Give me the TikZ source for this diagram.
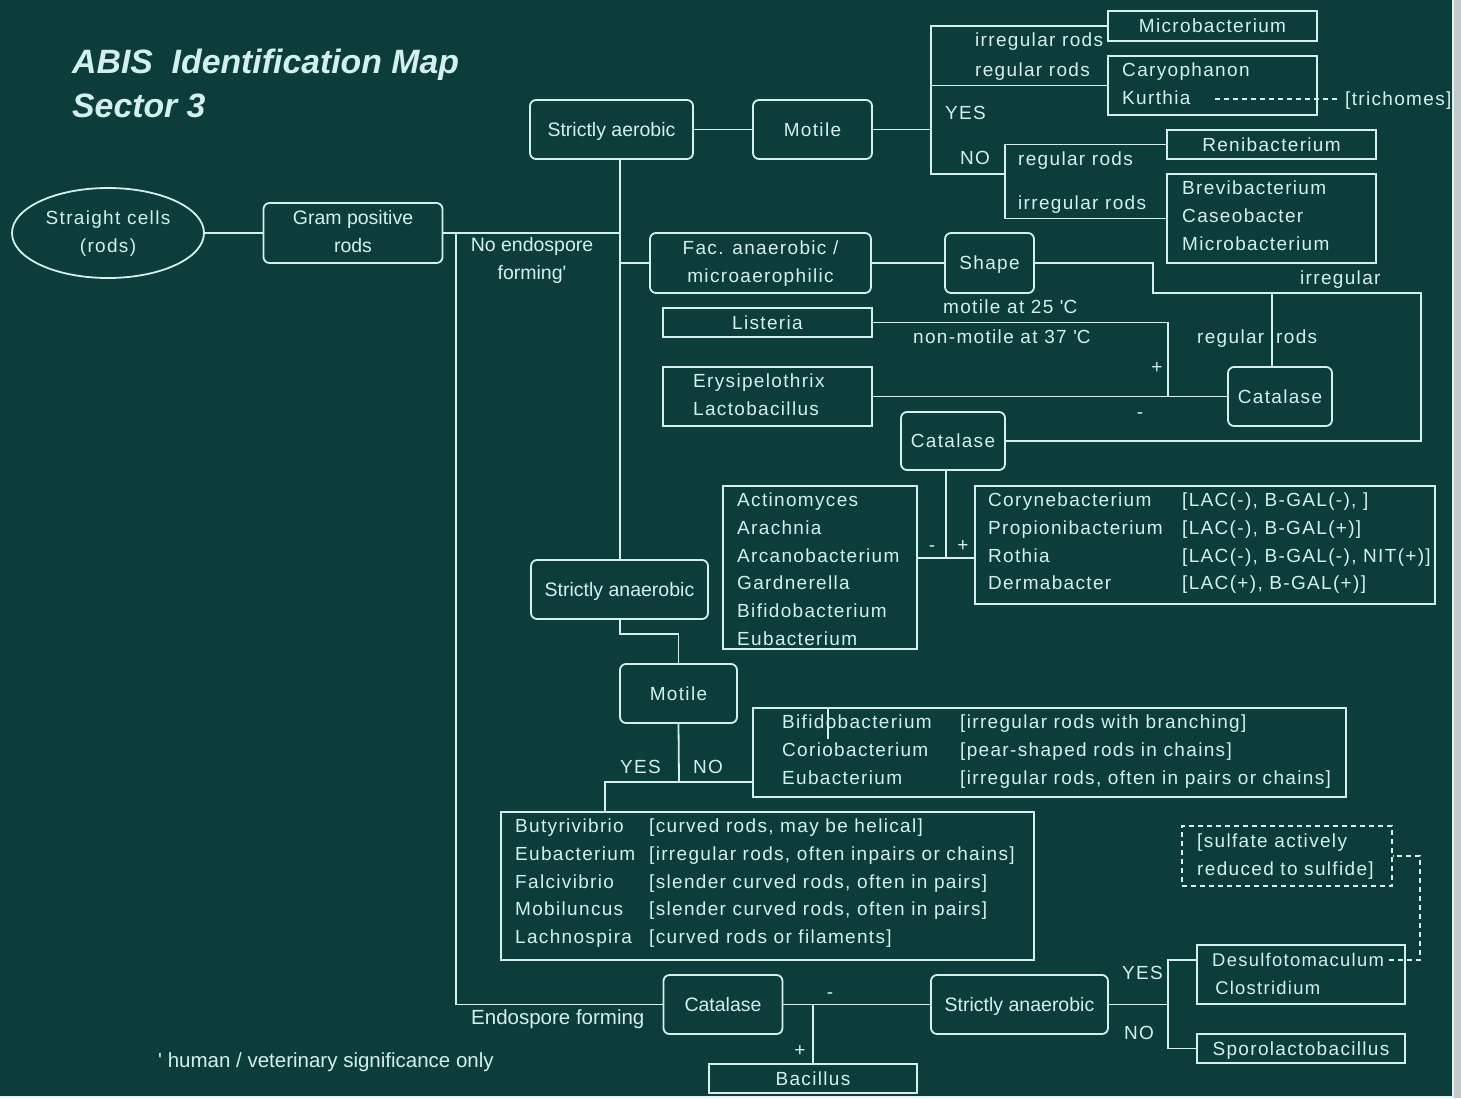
\documentclass[tikz,border=0pt]{standalone}
\usepackage{fontspec}
\usepackage{array}
\setmainfont{Liberation Sans}
\newfontfamily\spacedfam[LetterSpace=7]{Liberation Sans}
\usetikzlibrary{shapes.geometric}

\definecolor{bg}{HTML}{0C3D3B}
\definecolor{fg}{HTML}{D4F0EC}
\definecolor{edgegray}{HTML}{C4CACA}

\newcommand\plainfont{\fontsize{19.5}{27.7}\selectfont}
\newcommand\notefont{\fontsize{20.5}{27.7}\selectfont}
\newcommand\spacedfont{\spacedfam\fontsize{19}{27.7}\selectfont}
\newcommand\titlefont{\fontsize{33.8}{42}\selectfont\bfseries\itshape}
\newcommand\twoline[2]{\begin{tabular}{@{}c@{}}#1\\#2\end{tabular}}
\newcommand\stack[1]{\begin{tabular}{@{}l@{}}#1\end{tabular}}
\newcommand\pairlist[2]{\begin{tabular}{@{}p{#1pt}@{}l@{}}#2\end{tabular}}

\tikzset{
  ln/.style={draw=fg, line width=1.8pt},
  dsh/.style={draw=fg, line width=1.6pt, dash pattern=on 5pt off 4pt},
  frame/.style={draw=fg, line width=1.8pt, inner sep=0pt, text=fg, font=\spacedfont},
  rbox/.style={frame, rounded corners=6pt},
  sbox/.style={frame},
  one/.style={text height=13.6pt, text depth=0pt},
  lab/.style={text=fg, inner sep=0pt, text height=13.6pt, text depth=0pt, font=\spacedfont},
  txt/.style={text=fg, inner sep=0pt, anchor=west, font=\spacedfont},
}

\begin{document}
\begin{tikzpicture}[x=1pt,y=-1pt]
\fill[bg] (0,0) rectangle (1461,1098);
\useasboundingbox (0,0) rectangle (1461,1098);
% window frame at the right and bottom edges
\fill[edgegray] (1453,0) rectangle (1461,1098);
\draw[fg!80, line width=1.5pt] (1453,0) -- (1453,1098);
\draw[fg!70, line width=2pt] (0,1097) -- (1453,1097);

% title
\node[txt, font=\titlefont, anchor=base west] (title1) at (72,73) {ABIS\ \ Identification Map};
\node[txt, font=\titlefont, anchor=base west] (title2) at (72,117) {Sector 3};

% boxes
\node[frame, ellipse, minimum width=192pt, minimum height=90pt] (cells) at (108,233) {\twoline{Straight cells}{(rods)}};
\node[rbox, minimum width=179pt, minimum height=60pt, font=\plainfont] (gram) at (353,233) {\twoline{Gram positive}{rods}};
\node[rbox, one, minimum width=163pt, minimum height=59pt, font=\plainfont] (aer) at (611.5,129.5) {Strictly aerobic};
\node[rbox, one, minimum width=119pt, minimum height=59pt] (mot1) at (812.5,129.5) {Motile};
\node[sbox, one, minimum width=209pt, minimum height=30pt] (micro1) at (1212.5,26) {Microbacterium};
\node[sbox, minimum width=209pt, minimum height=59pt] (caryo) at (1212.5,85.5) {};
\node[txt] (caryoT) at (1122,85.1) {\stack{Caryophanon\\Kurthia}};
\node[sbox, one, minimum width=209pt, minimum height=29pt] (reni) at (1271.5,144.5) {Renibacterium};
\node[sbox, minimum width=209pt, minimum height=89pt] (brevi) at (1271.5,218.5) {};
\node[txt] (breviT) at (1182,217) {\stack{Brevibacterium\\Caseobacter\\Microbacterium}};
\node[rbox, minimum width=221pt, minimum height=60pt] (fac) at (760.5,263) {\twoline{Fac. anaerobic /}{microaerophilic}};
\node[rbox, one, minimum width=89pt, minimum height=60pt] (shape) at (989.5,263) {Shape};
\node[sbox, one, minimum width=209pt, minimum height=29pt] (list) at (767.5,322.5) {Listeria};
\node[sbox, minimum width=209pt, minimum height=59pt] (erysi) at (767.5,396.5) {};
\node[txt] (erysiT) at (693,396.1) {\stack{Erysipelothrix\\Lactobacillus}};
\node[rbox, one, minimum width=104pt, minimum height=59pt] (cat2) at (1280,396.5) {Catalase};
\node[rbox, one, minimum width=104pt, minimum height=58pt] (cat1) at (953,441) {Catalase};
\node[sbox, minimum width=194pt, minimum height=163pt] (actino) at (820,567.5) {};
\node[txt] (actinoT) at (737,570.5) {\stack{Actinomyces\\Arachnia\\Arcanobacterium\\Gardnerella\\Bifidobacterium\\Eubacterium}};
\node[sbox, minimum width=460pt, minimum height=118pt] (coryne) at (1205,545) {};
\node[txt] (coryneT) at (988,542.8) {\pairlist{194}{Corynebacterium & [LAC(-), B-GAL(-), ]\\ Propionibacterium & [LAC(-), B-GAL(+)]\\ Rothia & [LAC(-), B-GAL(-), NIT(+)]\\ Dermabacter & [LAC(+), B-GAL(+)]}};
\node[rbox, one, minimum width=177pt, minimum height=59pt, font=\plainfont] (ana1) at (619.5,589.5) {Strictly anaerobic};
\node[rbox, one, minimum width=117pt, minimum height=59pt] (mot2) at (678.5,693.5) {Motile};
\node[sbox, minimum width=593pt, minimum height=89pt] (bifido) at (1049.5,752.5) {};
\node[txt] (bifidoT) at (782,751) {\pairlist{178}{Bifidobacterium & [irregular rods with branching]\\ Coriobacterium & [pear-shaped rods in chains]\\ Eubacterium & [irregular rods, often in pairs or chains]}};
\node[sbox, minimum width=533pt, minimum height=148pt] (butyri) at (767.5,886) {};
\node[txt] (butyriT) at (515,882.7) {\pairlist{134}{Butyrivibrio & [curved rods, may be helical]\\ Eubacterium & [irregular rods, often inpairs or chains]\\ Falcivibrio & [slender curved rods, often in pairs]\\ Mobiluncus & [slender curved rods, often in pairs]\\ Lachnospira & [curved rods or filaments]}};
\node[sbox, dsh, minimum width=210pt, minimum height=60pt] (sulf) at (1287,856) {};
\node[txt] (sulfT) at (1197,856) {\stack{[sulfate actively\\reduced to sulfide]}};
\node[sbox, minimum width=208pt, minimum height=59pt] (desulfo) at (1301,974.5) {};
\node[txt, font=\spacedfam\fontsize{18.4}{27.7}\selectfont] (desulfoT) at (1212,975.1) {\stack{Desulfotomaculum\\\,Clostridium}};
\node[sbox, one, minimum width=208pt, minimum height=29pt] (sporo) at (1301,1048.5) {Sporolactobacillus};
\node[rbox, one, minimum width=119pt, minimum height=59pt, font=\plainfont] (cat3) at (723,1004.5) {Catalase};
\node[rbox, one, minimum width=177pt, minimum height=59pt, font=\plainfont] (ana2) at (1019.5,1004.5) {Strictly anaerobic};
\node[sbox, one, minimum width=208pt, minimum height=29pt] (bac) at (813,1078.5) {Bacillus};

% branch labels
\node[lab, anchor=west] (lirr1) at (975,40) {irregular rods};
\node[lab, anchor=west] (lreg1) at (975,70) {regular rods};
\node[lab, anchor=west] (lyes1) at (945,113) {YES};
\node[lab, anchor=west] (lno1) at (960,158) {NO};
\node[lab, anchor=west] (lreg2) at (1018,159) {regular rods};
\node[lab, anchor=west] (lirr2) at (1018,203) {irregular rods};
\node[lab, anchor=west] (tri) at (1345,99) {[trichomes]};
\node[txt, anchor=center, font=\plainfont] (noendo) at (532,260) {\twoline{No endospore}{forming\textquotesingle}};
\node[lab, anchor=west] (m25) at (943,307) {motile at 25 \textquotesingle C};
\node[lab, anchor=west] (m37) at (913,337) {non-motile at 37 \textquotesingle C};
\node[lab] (pl1) at (1157,367) {+};
\node[lab] (mi1) at (1140,412) {-};
\node[lab, anchor=west] (lirr3) at (1300,278) {irregular};
\node[lab, anchor=west] (lreg3) at (1197,337) {regular};
\node[lab, anchor=west] (lrods3) at (1276,337) {rods};
\node[lab] (mi2) at (932,545) {-};
\node[lab] (pl2) at (963,545) {+};
\node[lab, anchor=west] (lyes2) at (620,767) {YES};
\node[lab, anchor=west] (lno2) at (693,767) {NO};
\node[lab, anchor=west, font=\notefont] (endo) at (471,1018) {Endospore forming};
\node[lab] (mi3) at (830,992) {-};
\node[lab] (pl3) at (800,1050) {+};
\node[lab, anchor=west] (lyes3) at (1122,973) {YES};
\node[lab, anchor=west] (lno3) at (1124,1033) {NO};
\node[lab, anchor=west, font=\notefont] (foot) at (158,1061) {\textquotesingle\ human / veterinary significance only};

% junction points of the connector tree
\coordinate (trunk) at (620,0);
\coordinate (yn) at (931,0);
\coordinate (no1) at (931,174);
\coordinate (br) at (1005,0);
\coordinate (s1) at (1153,293);
\coordinate (s2) at (1421,293);
\coordinate (s3) at (1421,441);
\coordinate (rr) at (1272,293);
\coordinate (lp) at (1168,0);
\coordinate (cj) at (946,558);
\coordinate (a1) at (620,634);
\coordinate (m2) at (679,782);
\coordinate (yb) at (605,782);
\coordinate (stray) at (828,0);
\coordinate (e0) at (456,233);
\coordinate (bj) at (813,1004.5);
\coordinate (d1) at (1168,960);
\coordinate (d2) at (1168,1048.5);
\coordinate (k1) at (1215,99);
\coordinate (q1) at (1389,960);
\coordinate (q2) at (1420,960);
\coordinate (q3) at (1420,856);

% connectors
\draw[ln] (cells.east) -- (gram.west);
\draw[ln] (gram.east) -- (gram.east -| trunk);
\draw[ln] (aer.south -| trunk) -- (ana1.north -| trunk);
\draw[ln] (fac.west -| trunk) -- (fac.west);
\draw[ln] (aer.east) -- (mot1.west);
\draw[ln] (mot1.east) -- (mot1.east -| yn);
\draw[ln] (micro1.west) -- (micro1.west -| yn) -- (no1) -- (no1 -| br);
\draw[ln] (caryo.west -| yn) -- (caryo.west);
\draw[ln] (reni.west) -- (reni.west -| br) -- (brevi.west -| br) -- (brevi.west);
\draw[ln] (fac.east) -- (shape.west);
\draw[ln] (shape.east) -| (s1) -- (s2) -- (s3) -- (cat1.east);
\draw[ln] (rr) -- (rr |- cat2.north);
\draw[ln] (list.east) -- (list.east -| lp) -- (lp |- cat2.west);
\draw[ln] (cat2.west) -- (erysi.east);
\draw[ln] (cat1.south -| cj) -- (cj);
\draw[ln] (actino.east |- cj) -- (coryne.west |- cj);
\draw[ln] (ana1.south -| trunk) -- (a1) -| (mot2.north);
\draw[ln] (mot2.south) -- (m2);
\draw[ln] (yb |- butyri.north) -- (yb) -- (bifido.west |- yb);
\draw[ln, line width=1.2pt] (bifido.north -| stray) -- ++(0,32);
\draw[ln] (e0) |- (cat3.west);
\draw[ln] (cat3.east) -- (ana2.west);
\draw[ln] (bj) -- (bac.north -| bj);
\draw[ln] (ana2.east) -- (ana2.east -| d1);
\draw[ln] (desulfo.west |- d1) -- (d1) -- (d2) -- (sporo.west);
\draw[dsh] (k1) -- ([xshift=-8pt]tri.west);
\draw[dsh] (q1) -- (q2) -- (q3) -- (sulf.east);
\end{tikzpicture}
\end{document}
